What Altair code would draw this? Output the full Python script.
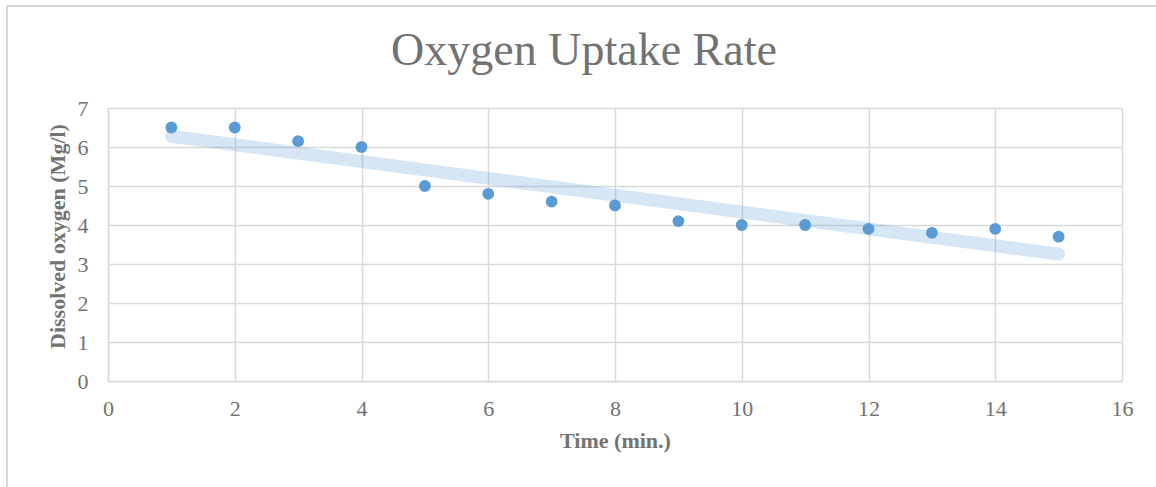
import altair as alt
import pandas as pd

time_min = [1, 2, 3, 4, 5, 6, 7, 8, 9, 10, 11, 12, 13, 14, 15]
dissolved_oxygen = [6.5, 6.5, 6.15, 6.0, 5.0, 4.8, 4.6, 4.5, 4.1, 4.0, 4.0, 3.9, 3.8, 3.9, 3.7]

df = pd.DataFrame({"t": time_min, "o": dissolved_oxygen})

FONT = "Liberation Serif"
TXT = "#727272"
GRID = "#d9d9d9"
BLUE = "#5b9bd5"

x = alt.X("t:Q", title="Time (min.)",
          scale=alt.Scale(domain=[0, 16], nice=False),
          axis=alt.Axis(values=list(range(0, 17, 2)), labelFontSize=22, labelPadding=17,
                        labelFlush=False, titleFontSize=22, titlePadding=11))
y = alt.Y("o:Q", title="Dissolved oxygen (Mg/l)",
          scale=alt.Scale(domain=[0, 7], nice=False),
          axis=alt.Axis(values=list(range(0, 8)), labelFontSize=22, labelPadding=20,
                        labelFlush=False, titleFontSize=22, titlePadding=8, titleY=128))

base = alt.Chart(df)

trend = base.transform_regression("t", "o").mark_line(
    color=BLUE, opacity=0.25, strokeWidth=13, strokeCap="round"
).encode(x=x, y=y)

points = base.mark_circle(size=140, color=BLUE, opacity=1).encode(x=x, y=y)

border_top = alt.Chart(pd.DataFrame({"k": [0]})).mark_rule(color=GRID, strokeWidth=2).encode(
    x=alt.value(-101), x2=alt.value(1048), y=alt.value(-102))
border_left = alt.Chart(pd.DataFrame({"k": [0]})).mark_rule(color=GRID, strokeWidth=2).encode(
    x=alt.value(-101), y=alt.value(-102), y2=alt.value(379))

chart = alt.layer(border_top, border_left, trend, points).properties(
    width=1014, height=273,
    autosize=alt.AutoSizeParams(type="none"),
    padding={"left": 108, "top": 108, "right": 34, "bottom": 106},
    title=alt.TitleParams("Oxygen Uptake Rate", fontSize=46, font=FONT, fontWeight="normal",
                          color=TXT, anchor="middle", dx=-31, offset=-70),
).configure_view(stroke=None).configure_axis(
    labelFont=FONT, titleFont=FONT, labelColor=TXT, titleColor=TXT,
    titleFontWeight="bold", gridColor=GRID, gridWidth=1.5, domainColor=GRID,
    domainWidth=1.5, ticks=False,
).configure_axisX(domain=True).configure_axisY(domain=True)

chart.save("out.html", embed_options={"renderer": "svg", "actions": False})
